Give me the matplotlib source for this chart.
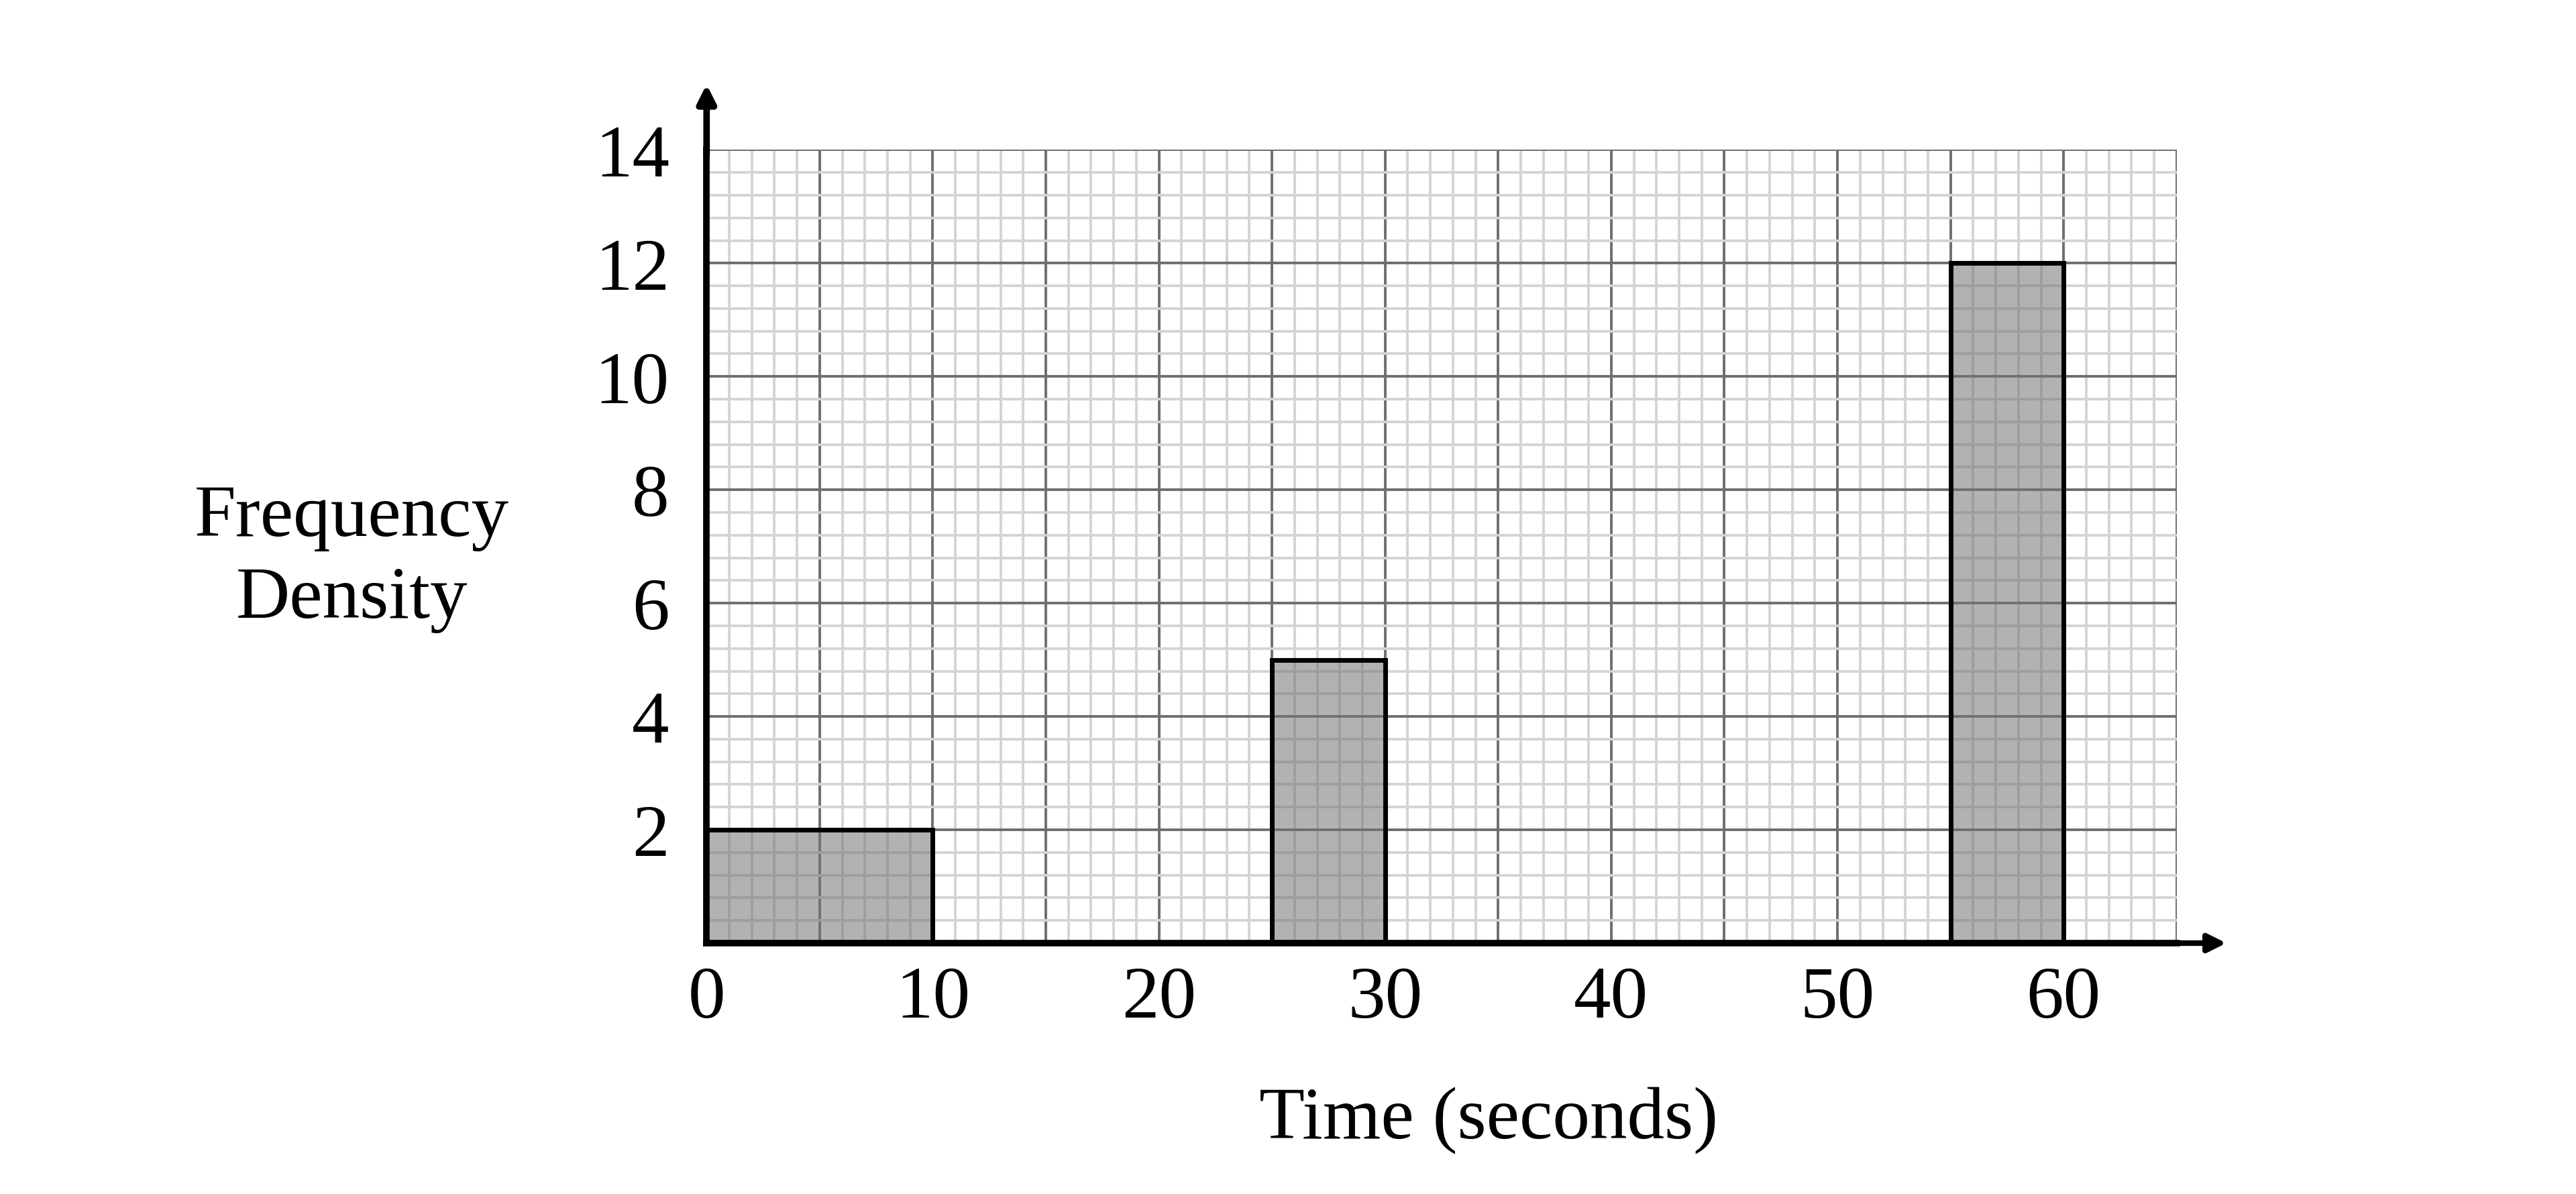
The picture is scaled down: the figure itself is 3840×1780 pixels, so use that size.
import matplotlib.pyplot as plt
from matplotlib.ticker import MultipleLocator

# histogram data: class boundaries and frequency densities
bin_left = [0, 25, 55]
bin_width = [10, 5, 5]
freq_density = [2, 5, 12]

x_ticks = [0, 10, 20, 30, 40, 50, 60]
y_ticks = [2, 4, 6, 8, 10, 12, 14]

plt.rcParams['font.family'] = ['Liberation Serif', 'DejaVu Serif']

fig = plt.figure(figsize=(38.4, 17.81), dpi=100)
ax = fig.add_axes([0.2743, 0.210, 0.845 - 0.2743, 0.874 - 0.210])

ax.set_xlim(0, 65)
ax.set_ylim(0, 14)

# graph paper grid: dark every 5 s / 2 units, light every 1 s / 0.4 units
ax.xaxis.set_major_locator(MultipleLocator(5))
ax.xaxis.set_minor_locator(MultipleLocator(1))
ax.yaxis.set_major_locator(MultipleLocator(2))
ax.yaxis.set_minor_locator(MultipleLocator(0.4))
ax.grid(which='major', color='#6e6e6e', linewidth=2.8, zorder=1)
ax.grid(which='minor', color='#d4d4d4', linewidth=2.8, zorder=1)
ax.set_axisbelow(True)

# bars, translucent so the grid shows through
ax.bar(bin_left, freq_density, width=bin_width, align='edge',
       facecolor=(0.45, 0.45, 0.45, 0.55), edgecolor='black', linewidth=5, zorder=3)

# labels only on multiples of 10 (x) and 2..14 (y)
ax.set_xticklabels([str(int(v)) if v in x_ticks else '' for v in ax.get_xticks()])
ax.set_yticklabels([str(int(v)) if v in y_ticks else '' for v in ax.get_yticks()])
ax.tick_params(which='both', length=0, labelsize=80)
ax.tick_params(axis='x', pad=24)
ax.tick_params(axis='y', pad=40)

for s in ['top', 'right']:
    ax.spines[s].set_visible(False)
for s in ['left', 'bottom']:
    ax.spines[s].set_linewidth(7)
    ax.spines[s].set_zorder(4)

# arrow heads on both axes
ax.annotate('', xy=(1.035, 0), xytext=(0.99, 0), xycoords='axes fraction',
            arrowprops=dict(arrowstyle='-|>', color='black', lw=6, mutation_scale=40),
            annotation_clip=False)
ax.annotate('', xy=(0, 1.085), xytext=(0, 0.99), xycoords='axes fraction',
            arrowprops=dict(arrowstyle='-|>', color='black', lw=7, mutation_scale=40),
            annotation_clip=False)

fig.text(0.1365, 0.532, 'Frequency\nDensity', ha='center', va='center', fontsize=80, linespacing=1.3)
fig.text(0.578, 0.062, 'Time (seconds)', ha='center', va='center', fontsize=80)

plt.savefig('out.png', dpi=100)
